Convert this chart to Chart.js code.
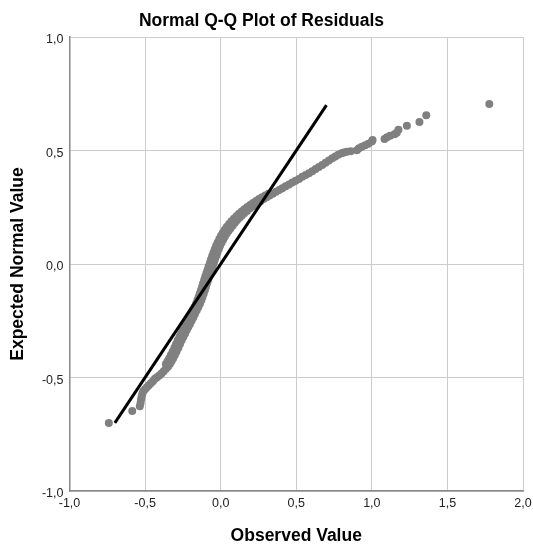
<!DOCTYPE html>
<html>
<head>
<meta charset="utf-8">
<title>Normal Q-Q Plot of Residuals</title>
<script src="https://cdn.jsdelivr.net/npm/chart.js@4/dist/chart.umd.min.js"></script>
<style>
    html, body { margin: 0; padding: 0; background: #fff; }
    #wrap { width: 533px; height: 547px; position: relative; }
</style>
</head>
<body>
<div id="wrap"><canvas id="qq-chart"></canvas></div>
<script>
// Data
const observed = [
    -0.740, -0.585, -0.535, -0.530, -0.527, -0.523, -0.518, -0.512, -0.500, -0.488,
    -0.475, -0.462, -0.448, -0.435, -0.421, -0.406, -0.391, -0.377, -0.362, -0.347,
    -0.336, -0.325, -0.314, -0.303, -0.292, -0.280, -0.269, -0.258, -0.247, -0.236,
    -0.225, -0.214, -0.203, -0.192, -0.181, -0.170, -0.159, -0.148, -0.137, -0.128,
    -0.120, -0.112, -0.104, -0.097, -0.090, -0.083, -0.076, -0.068, -0.060, -0.053,
    -0.045, -0.038, -0.030, -0.022, -0.013, -0.004, 0.006, 0.017, 0.028, 0.040,
    0.053, 0.066, 0.080, 0.094, 0.108, 0.124, 0.140, 0.156, 0.174, 0.192,
    0.210, 0.228, 0.246, 0.265, 0.284, 0.304, 0.324, 0.345, 0.366, 0.387,
    0.408, 0.430, 0.452, 0.474, 0.496, 0.518, 0.540, 0.562, 0.584, 0.606,
    0.628, 0.650, 0.672, 0.694, 0.716, 0.738, 0.758, 0.778, 0.800, 0.815,
    0.834, 0.860, 0.901, 0.915, 0.934, 0.956, 0.977, 1.000, 1.005, 1.084,
    1.100, 1.121, 1.150, 1.165, 1.176, 1.232, 1.315, 1.360, 1.777,
    // upper-left edge of the dense band
    -0.362, -0.351, -0.340, -0.329, -0.318, -0.306, -0.295, -0.284, -0.273, -0.262,
    -0.251, -0.240, -0.229, -0.218, -0.207, -0.196, -0.185, -0.174, -0.163, -0.154,
    -0.146, -0.138, -0.130, -0.123, -0.116, -0.109, -0.102, -0.094, -0.086, -0.079,
    -0.071, -0.064, -0.056, -0.048, -0.039, -0.030, -0.020, -0.009, 0.002, 0.014,
    0.027, 0.041, 0.056, 0.071, 0.087, 0.104, 0.121, 0.139, 0.157, 0.176,
    0.195, 0.214, 0.234, 0.254, 0.274, 0.295, 0.316
];
const expected = [
    -0.700, -0.648, -0.627, -0.612, -0.598, -0.585, -0.572, -0.561, -0.552, -0.543,
    -0.534, -0.525, -0.516, -0.506, -0.499, -0.491, -0.482, -0.472, -0.462, -0.452,
    -0.440, -0.428, -0.415, -0.401, -0.385, -0.369, -0.352, -0.336, -0.322, -0.307,
    -0.292, -0.278, -0.264, -0.250, -0.236, -0.220, -0.205, -0.190, -0.175, -0.160,
    -0.145, -0.130, -0.115, -0.100, -0.085, -0.070, -0.055, -0.040, -0.025, -0.010,
    0.005, 0.020, 0.035, 0.050, 0.065, 0.080, 0.094, 0.108, 0.121, 0.134,
    0.146, 0.158, 0.170, 0.182, 0.193, 0.204, 0.214, 0.224, 0.234, 0.244,
    0.253, 0.262, 0.270, 0.278, 0.286, 0.294, 0.302, 0.310, 0.318, 0.326,
    0.334, 0.342, 0.350, 0.359, 0.367, 0.375, 0.384, 0.392, 0.400, 0.409,
    0.418, 0.427, 0.436, 0.446, 0.456, 0.466, 0.474, 0.481, 0.488, 0.491,
    0.494, 0.497, 0.501, 0.510, 0.517, 0.523, 0.530, 0.540, 0.546, 0.551,
    0.558, 0.565, 0.572, 0.578, 0.591, 0.609, 0.626, 0.655, 0.705,
    -0.440, -0.428, -0.415, -0.401, -0.385, -0.369, -0.352, -0.336, -0.322, -0.307,
    -0.292, -0.278, -0.264, -0.250, -0.236, -0.220, -0.205, -0.190, -0.175, -0.160,
    -0.145, -0.130, -0.115, -0.100, -0.085, -0.070, -0.055, -0.040, -0.025, -0.010,
    0.005, 0.020, 0.035, 0.050, 0.065, 0.080, 0.095, 0.110, 0.124, 0.138,
    0.151, 0.164, 0.176, 0.188, 0.199, 0.210, 0.221, 0.231, 0.241, 0.251,
    0.260, 0.269, 0.278, 0.286, 0.294, 0.302, 0.310
];

// Reference line
const lineX = [-0.7, 0.7];
const lineY = [-0.7, 0.7];

// Axis ranges and steps
const xRange = [-1, 2];
const yRange = [-1, 1];
const tickStep = 0.5;

const FONT = '"Liberation Sans", Arial, Helvetica, sans-serif';

function commaLabel(v) {
    return (Math.abs(v) < 1e-9 ? 0 : v).toFixed(1).replace('.', ',');
}

document.addEventListener('DOMContentLoaded', () => {
    const ctx = document.getElementById('qq-chart').getContext('2d');
    new Chart(ctx, {
        type: 'scatter',
        data: {
            datasets: [{
                label: 'Fit',
                type: 'line',
                data: lineX.map((x, i) => ({ x: x, y: lineY[i] })),
                borderColor: '#000',
                borderWidth: 3,
                pointRadius: 0,
                fill: false,
                order: 0
            }, {
                label: 'Residuals',
                data: observed.map((x, i) => ({ x: x, y: expected[i] })),
                backgroundColor: '#808080',
                borderWidth: 0,
                pointRadius: 4,
                order: 1
            }]
        },
        options: {
            responsive: true,
            maintainAspectRatio: false,
            animation: false,
            layout: { padding: { left: 0, right: 10, top: 0, bottom: 0 } },
            plugins: {
                legend: { display: false },
                tooltip: { enabled: false },
                title: {
                    display: true,
                    text: 'Normal Q-Q Plot of Residuals',
                    color: '#000',
                    font: { family: FONT, size: 17.5, weight: 'bold' },
                    padding: { top: 11, bottom: 5 }
                }
            },
            scales: {
                x: {
                    type: 'linear',
                    min: xRange[0],
                    max: xRange[1],
                    afterFit: (scale) => {
                        scale.height = 56;
                        scale.paddingLeft = 0;
                        scale.paddingRight = 0;
                    },
                    ticks: {
                        stepSize: tickStep,
                        padding: 5,
                        color: '#222',
                        font: { family: FONT, size: 12.5 },
                        callback: (v) => commaLabel(v)
                    },
                    grid: { color: '#cccccc', lineWidth: 1, drawTicks: false },
                    border: { color: '#888', width: 1.5 },
                    title: {
                        display: true,
                        text: 'Observed Value',
                        color: '#000',
                        font: { family: FONT, size: 17.5, weight: 'bold' },
                        padding: { top: 0, bottom: 0 }
                    }
                },
                y: {
                    type: 'linear',
                    min: yRange[0],
                    max: yRange[1],
                    afterFit: (scale) => {
                        scale.width = 69.5;
                        scale.paddingTop = 0;
                        scale.paddingBottom = 0;
                    },
                    ticks: {
                        stepSize: tickStep,
                        padding: 6,
                        labelOffset: 3,
                        color: '#222',
                        font: { family: FONT, size: 12.5 },
                        callback: (v) => commaLabel(v)
                    },
                    grid: { color: '#cccccc', lineWidth: 1, drawTicks: false },
                    border: { color: '#888', width: 1.5 },
                    title: {
                        display: true,
                        text: 'Expected Normal Value',
                        color: '#000',
                        font: { family: FONT, size: 17.5, weight: 'bold' },
                        padding: { top: 8, bottom: 0 }
                    }
                }
            }
        }
    });
});
</script>
</body>
</html>
